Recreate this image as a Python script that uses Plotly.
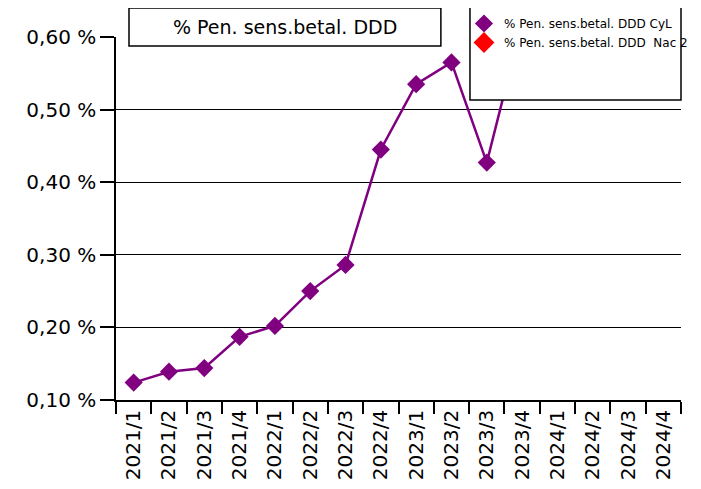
import plotly.graph_objects as go

categories = ["2021/1", "2021/2", "2021/3", "2021/4", "2022/1", "2022/2", "2022/3", "2022/4",
              "2023/1", "2023/2", "2023/3", "2023/4", "2024/1", "2024/2", "2024/3", "2024/4"]
cyl_values = [0.124, 0.139, 0.144, 0.187, 0.202, 0.250, 0.286, 0.445,
              0.535, 0.565, 0.427, 0.62, None, None, None, None]
nac_values = [None] * 16
y_ticks = [0.10, 0.20, 0.30, 0.40, 0.50, 0.60]
y_tick_labels = [f"{v:.2f}".replace(".", ",") + " %" for v in y_ticks]

name_cyl = "% Pen. sens.betal. DDD CyL"
name_nac = "% Pen. sens.betal. DDD  Nac 2"
title_text = "% Pen. sens.betal. DDD"

FONT = "DejaVu Sans"

fig = go.Figure()
fig.add_trace(go.Scatter(x=categories, y=cyl_values, name=name_cyl, mode="lines+markers",
                         showlegend=False,
                         line=dict(color="#800080", width=2.5),
                         marker=dict(symbol="diamond", size=14, color="#800080")))
# legend-only entries (marker only, as in the reference legend)
fig.add_trace(go.Scatter(x=categories, y=[None] * 16, name=name_cyl, mode="markers",
                         marker=dict(symbol="diamond", size=14, color="#800080")))
fig.add_trace(go.Scatter(x=categories, y=nac_values, name=name_nac, mode="markers",
                         marker=dict(symbol="diamond", size=18, color="#FF0000")))

# box shapes (paper coords relative to plot domain)
fig.add_shape(type="rect", xref="paper", yref="paper", x0=0.023, x1=0.575, y0=0.975, y1=1.080,
              fillcolor="white", line=dict(color="black", width=1.5), layer="above")
fig.add_shape(type="rect", xref="paper", yref="paper", x0=0.6265, x1=1.0, y0=0.8264, y1=1.0826,
              fillcolor="white", line=dict(color="black", width=1.5), layer="above")
fig.add_annotation(text=title_text, xref="paper", yref="paper", x=0.299, y=1.0275,
                   showarrow=False, font=dict(family=FONT, size=19, color="black"),
                   xanchor="center", yanchor="middle")

fig.update_layout(
    width=701, height=489,
    margin=dict(l=108, r=28, t=29, b=97, autoexpand=False),
    plot_bgcolor="white", paper_bgcolor="white",
    font=dict(family=FONT, color="black"),
    showlegend=True,
    legend=dict(xref="container", yref="container", x=0.6505, y=0.998,
                xanchor="left", yanchor="top",
                bgcolor="rgba(0,0,0,0)", borderwidth=0,
                font=dict(family=FONT, size=12, color="black"),
                itemwidth=30, tracegroupgap=0),
    xaxis=dict(type="category", categoryorder="array", categoryarray=categories,
               range=[-0.5, 15.5], tickangle=-90, tickson="boundaries", automargin=False,
               ticks="outside", ticklen=12, tickcolor="black", tickwidth=1.5,
               showline=True, linecolor="black", linewidth=1.5, showgrid=False,
               tickfont=dict(family=FONT, size=20, color="black")),
    yaxis=dict(range=[0.10, 0.60], tickvals=y_ticks, ticktext=y_tick_labels, automargin=False,
               ticks="outside", ticklen=14, tickcolor="black", tickwidth=1.5,
               showline=True, linecolor="black", linewidth=1.5,
               showgrid=True, gridcolor="black", gridwidth=1.4, zeroline=False,
               tickfont=dict(family=FONT, size=20, color="black")),
)

fig.write_html("out.html")
